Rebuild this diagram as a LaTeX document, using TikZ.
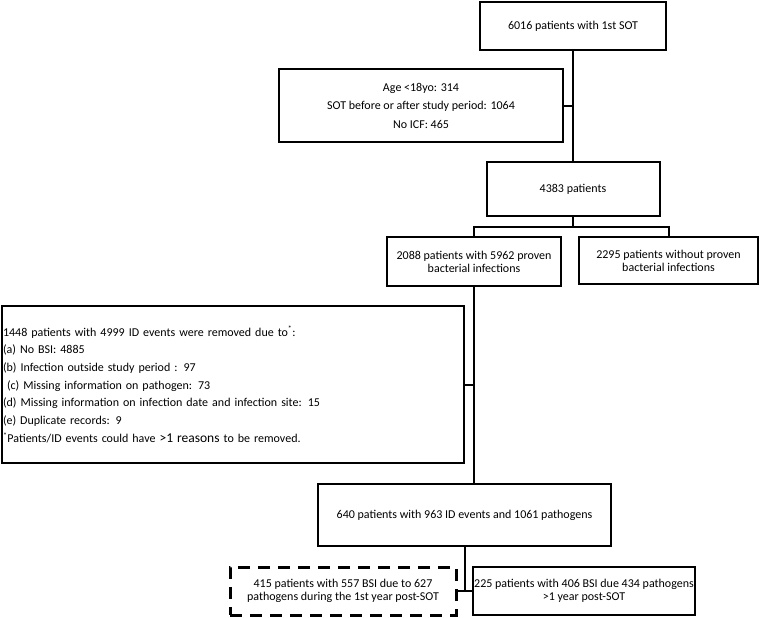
\documentclass[tikz,border=0pt]{standalone}
\usepackage{fontspec}
\setmainfont{Carlito}
\usetikzlibrary{positioning}

\begin{document}
\begin{tikzpicture}[x=1pt,y=-1pt,
  box/.style={draw,line width=2pt,align=center,inner sep=1pt,
    font=\fontsize{12}{13}\selectfont},
  dashbox/.style={box,line width=3pt,dash pattern=on 12pt off 8pt},
  link/.style={line width=2pt}]
\useasboundingbox (0,0) rectangle (760,618);

% Cohort boxes
\node[box,minimum width=186pt,minimum height=48pt] (first) at (573,26) {6016 patients with 1st SOT};
\node[box,minimum width=284pt,minimum height=73pt,font=\fontsize{12}{18.5}\selectfont] (exclA) at (421,105.5)
  {Age <18yo: 314\\SOT before or after study period: 1064\\No ICF: 465};
\node[box,minimum width=173pt,minimum height=54pt] (all) at (573,189) {4383 patients};
\node[box,minimum width=174pt,minimum height=49pt] (bact) at (474,261.5)
  {2088 patients with 5962 proven\\bacterial infections};
\node[box,minimum width=179pt,minimum height=47pt] (nobact) at (668.5,260.5)
  {2295 patients without proven\\bacterial infections};

% Removed ID events
\node[box,text width=460pt,minimum height=157pt,align=left,
  font=\fontsize{12}{17.7}\selectfont] (exclB) at (233,384.5)
  {1448 patients with 4999 ID events were removed due to\textsuperscript{*}:\\
   (a) No BSI: 4885\\
   (b) Infection outside study period : 97\\
   \ (c) Missing information on pathogen: 73\\
   (d) Missing information on infection date and infection site: 15\\
   (e) Duplicate records: 9\\
   \textsuperscript{*}Patients/ID events could have {\fontsize{13.5}{17.7}\selectfont >1 reasons} to be removed.};

\node[box,minimum width=293pt,minimum height=62pt] (final) at (464.5,515)
  {640 patients with 963 ID events and 1061 pathogens};

% Split by time post-SOT
\node[dashbox,minimum width=226pt,minimum height=48pt] (early) at (343,591)
  {415 patients with 557 BSI due to 627\\pathogens during the 1st year post-SOT};
\node[box,minimum width=218pt,minimum height=48pt] (late) at (584,591)
  {225 patients with 406 BSI due 434 pathogens\\>1 year post-SOT};

% Connectors
\draw[link] (first.south) -- (all.north);
\draw[link] (exclA.east) -- (exclA.east -| first.south);
\draw[link] (all.south) -- ([yshift=-10pt]all.south);
\draw[link] ([yshift=-10pt]all.south) -| (bact.north);
\draw[link] ([yshift=-10pt]all.south) -| (nobact.north);
\draw[link] (bact.south) -- (bact.south |- final.north);
\draw[link] (exclB.east) -- (exclB.east -| bact.south);
\draw[link] (final.south) -- (final.south |- late.west);
\draw[link] (early.east) -- (late.west);
\end{tikzpicture}
\end{document}
